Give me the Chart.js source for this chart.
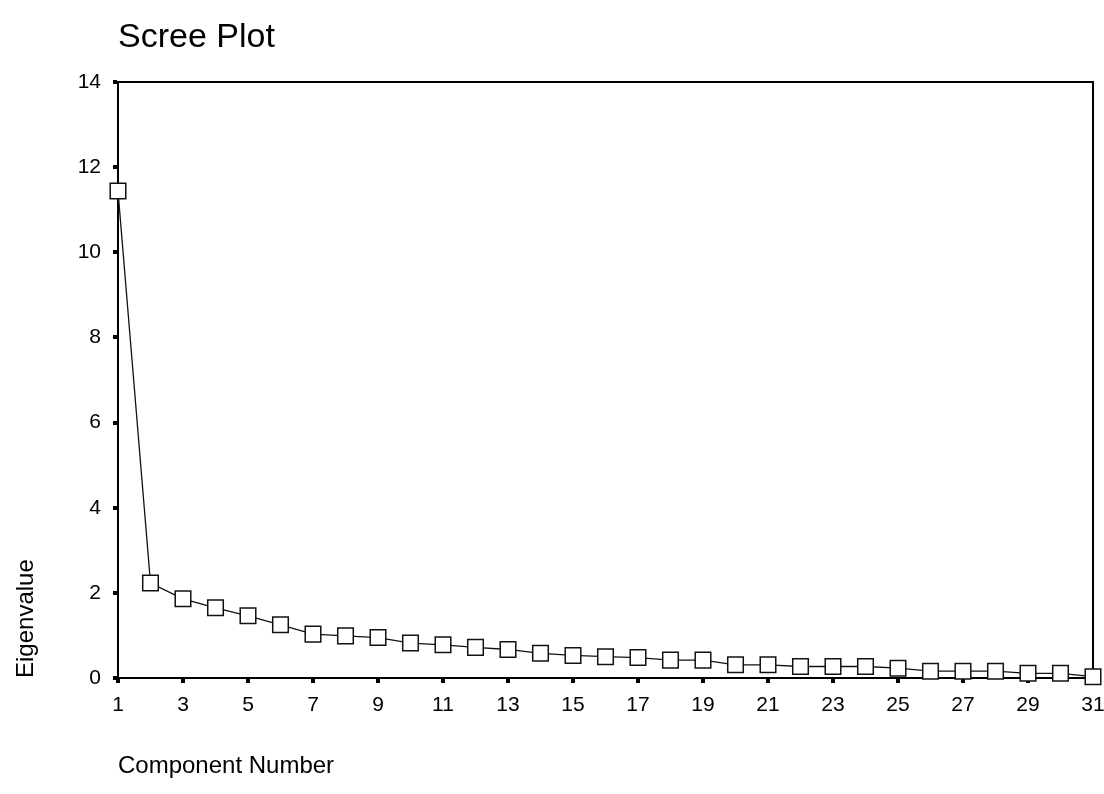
<!DOCTYPE html>
<html>
<head>
<meta charset="utf-8">
<title>Scree Plot</title>
<script src="https://cdn.jsdelivr.net/npm/chart.js@4"></script>
<style>
    html, body { margin: 0; padding: 0; background: #fff; }
    #wrap { width: 1104px; height: 794px; }
</style>
</head>
<body>
<div id="wrap"><canvas id="scree_chart"></canvas></div>
<script>
// component numbers and their eigenvalues
const components = [1, 2, 3, 4, 5, 6, 7, 8, 9, 10, 11, 12, 13, 14, 15, 16,
    17, 18, 19, 20, 21, 22, 23, 24, 25, 26, 27, 28, 29, 30, 31]
const eigenvalues = [11.44, 2.23, 1.86, 1.65, 1.46, 1.25, 1.03, 0.99, 0.95, 0.82, 0.78,
    0.72, 0.67, 0.58, 0.53, 0.50, 0.48, 0.42, 0.42, 0.31, 0.31, 0.27, 0.27, 0.27,
    0.23, 0.16, 0.16, 0.16, 0.11, 0.11, 0.03]
const xRange = [1, 31]
const yRange = [0, 14]
const chartTitle = 'Scree Plot'

const FONT = 'Liberation Sans, Arial, sans-serif'

// box round the plot area, and the title lined up with its left edge
const frame = {
    id: 'frame',
    beforeDatasetsDraw(chart) {
        const { ctx, chartArea: a } = chart
        ctx.save()
        ctx.strokeStyle = '#000'
        ctx.lineWidth = 2
        ctx.strokeRect(a.left, a.top, a.right - a.left, a.bottom - a.top)
        ctx.restore()
    },
    afterDraw(chart) {
        const { ctx, chartArea: a } = chart
        ctx.save()
        ctx.fillStyle = '#000'
        ctx.font = '34px ' + FONT
        ctx.textAlign = 'left'
        ctx.textBaseline = 'middle'
        ctx.fillText(chartTitle, a.left, 38)
        ctx.restore()
    }
}

const ctx = document.getElementById('scree_chart')

const screeChart = new Chart(ctx, {
    type: 'line',
    data: {
        datasets: [{
            label: 'Eigenvalue',
            data: components.map((c, i) => ({ x: c, y: eigenvalues[i] })),
            borderColor: '#111',
            borderWidth: 1.3,
            tension: 0,
            pointStyle: 'rect',
            pointRadius: 11,
            pointHoverRadius: 11,
            pointBackgroundColor: '#fff',
            pointBorderColor: '#111',
            pointBorderWidth: 1.5,
            clip: false
        }]
    },
    options: {
        responsive: true,
        maintainAspectRatio: false,
        animation: false,
        layout: { autoPadding: false, padding: { left: 12, right: 0, top: 82, bottom: 0 } },
        plugins: {
            legend: { display: false },
            tooltip: { enabled: false },
            title: { display: false }
        },
        scales: {
            x: {
                type: 'linear',
                min: xRange[0],
                max: xRange[1],
                ticks: {
                    stepSize: 2,
                    color: '#000',
                    padding: 10,
                    font: { family: FONT, size: 21 }
                },
                grid: { drawOnChartArea: false, drawTicks: true, tickLength: 5, lineWidth: 4, color: '#000' },
                border: { display: true, color: '#000', width: 2 },
                title: {
                    display: true,
                    text: 'Component Number',
                    align: 'start',
                    color: '#000',
                    font: { family: FONT, size: 24 },
                    padding: { top: 21, bottom: 13 }
                },
                afterFit(scale) {
                    scale.height = 116
                    scale.paddingRight = 11
                }
            },
            y: {
                type: 'linear',
                min: yRange[0],
                max: yRange[1],
                ticks: {
                    stepSize: 2,
                    color: '#000',
                    padding: 12,
                    font: { family: FONT, size: 21 }
                },
                grid: { drawOnChartArea: false, drawTicks: true, tickLength: 5, lineWidth: 4, color: '#000' },
                border: { display: true, color: '#000', width: 2 },
                title: {
                    display: true,
                    text: 'Eigenvalue',
                    align: 'start',
                    color: '#000',
                    font: { family: FONT, size: 24 },
                    padding: { top: 0, bottom: 0 }
                },
                afterFit(scale) {
                    scale.width = 106
                    scale.paddingTop = 0
                }
            }
        }
    },
    plugins: [frame]
})
</script>
</body>
</html>
